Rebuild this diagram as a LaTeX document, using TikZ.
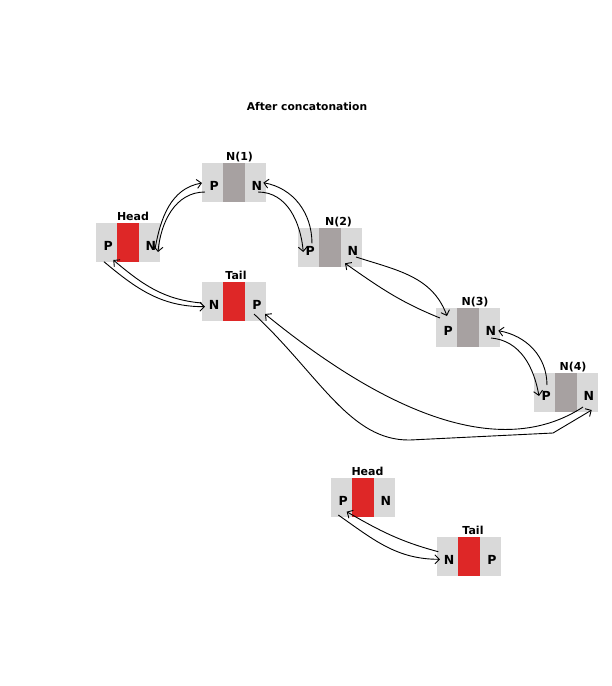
\documentclass[tikz,border=0pt]{standalone}
\usepackage{fontspec}
\setmainfont{DejaVu Sans}
\usetikzlibrary{arrows.meta}
\definecolor{segl}{HTML}{D9D9D9}
\definecolor{segd}{HTML}{A7A1A1}
\definecolor{segr}{HTML}{DE2727}
\tikzset{
  boxbg/.style={minimum width=64pt, minimum height=39pt, inner sep=0pt, fill=segl},
  seg/.style={minimum width=21.33pt, minimum height=39pt, inner sep=0pt},
  letter/.style={inner sep=0pt, font=\bfseries\fontsize{12.5}{14}\selectfont},
  lbl/.style={inner sep=0pt, anchor=base, font=\bfseries\fontsize{11}{13}\selectfont},
  link/.style={line width=0.9pt, -{Straight Barb[length=4.5pt,width=9pt,line width=0.9pt]}},
}
\newcommand\lbox[8]{%
  \node[boxbg] (#1) at (#2,-#3) {};
  \node[seg,fill=#4] (#1M) at (#1.center) {};
  \node[seg] (#1L) at ([xshift=-21.33pt]#1.center) {};
  \node[seg] (#1R) at ([xshift=21.33pt]#1.center) {};
  \node[letter] (#1Lt) at ([shift={(1.5,-3.5)}]#1L.center) {#5};
  \node[letter] (#1Rt) at ([shift={(1.5,-3.5)}]#1R.center) {#6};
  \node[lbl] (#1lab) at ([shift={(#8,2)}]#1.north) {#7};
}
\begin{document}
\begin{tikzpicture}[x=1pt,y=1pt]
\useasboundingbox (0,0) rectangle (611,-686);
\node[inner sep=0pt, font=\bfseries\fontsize{10.7}{12}\selectfont] (title) at (307,-106.5) {After concatonation};

\lbox{h1}{128}{242.5}{segr}{P}{N}{Head}{5}
\lbox{n1}{234}{182.5}{segd}{P}{N}{N(1)}{5.5}
\lbox{t1}{234}{301.5}{segr}{N}{P}{Tail}{2}
\lbox{n2}{330}{247.5}{segd}{P}{N}{N(2)}{8.5}
\lbox{n3}{468}{327.5}{segd}{P}{N}{N(3)}{7}
\lbox{n4}{566}{392.5}{segd}{P}{N}{N(4)}{7}
\lbox{h2}{363}{497.5}{segr}{P}{N}{Head}{4.5}
\lbox{t2}{469}{556.5}{segr}{N}{P}{Tail}{4}

% Head <-> N(1)
\draw[link] ([shift={(5.7,-6.5)}]h1R.center) to[out=80,in=190] ([shift={(-10.7,-0.5)}]n1L.center);
\draw[link] ([shift={(-7.7,-9.5)}]n1L.center) to[out=180,in=85] ([shift={(8.7,-9.5)}]h1R.center);
% N(1) <-> N(2)
\draw[link] ([shift={(2.7,-9.5)}]n1R.center) to[out=0,in=95] ([shift={(-5.4,-4.5)}]n2L.center);
\draw[link] ([shift={(3.3,4.2)}]n2L.center) to[out=90,in=-10] ([shift={(8,-0.2)}]n1R.center);
% N(2) <-> N(3)
\draw[link] ([shift={(4.7,-9.5)}]n2R.center) to[out=-18,in=110] ([shift={(0.3,11.5)}]n3L.center);
\draw[link] ([shift={(-6.7,9.5)}]n3L.center) to[out=158,in=-35] ([shift={(-6.3,-15.8)}]n2R.center);
% N(3) <-> N(4)
\draw[link] ([shift={(1.7,-10.5)}]n3R.center) to[out=-5,in=100] ([shift={(-5.7,-3.5)}]n4L.center);
\draw[link] ([shift={(2.3,7.5)}]n4L.center) to[out=90,in=-10] ([shift={(9,-3.2)}]n3R.center);
% N(4) <-> Tail
\draw[link] ([shift={(-4.3,-14.5)}]n4R.center)
  .. controls ([shift={(-82.3,-65.5)}]n4R.center) and ([shift={(139.7,-118.5)}]t1R.center)
  .. ([shift={(9.7,-12.5)}]t1R.center);
\draw[link] ([shift={(-1.3,-12.5)}]t1R.center)
  .. controls ([shift={(64.7,-74.5)}]t1R.center) and ([shift={(94.7,-139.5)}]t1R.center)
  .. ([shift={(154.7,-138.5)}]t1R.center)
  -- ([shift={(-34.3,-40.5)}]n4R.center)
  -- ([shift={(4.4,-17.5)}]n4R.center);
% Head <-> Tail (top)
\draw[link] ([shift={(-11,-1.5)}]t1L.center) to[out=175,in=-40] ([shift={(6.6,-17.5)}]h1L.center);
\draw[link] ([shift={(-2.7,-19.2)}]h1L.center) to[out=-40,in=180] ([shift={(-7.7,-5.2)}]t1L.center);
% Head <-> Tail (bottom)
\draw[link] ([shift={(-9.4,4.8)}]t2L.center) to[out=165,in=-30] ([shift={(5,-14.2)}]h2L.center);
\draw[link] ([shift={(-3.4,-17.5)}]h2L.center) to[out=-35,in=180] ([shift={(-7.7,-2.8)}]t2L.center);
\end{tikzpicture}
\end{document}
